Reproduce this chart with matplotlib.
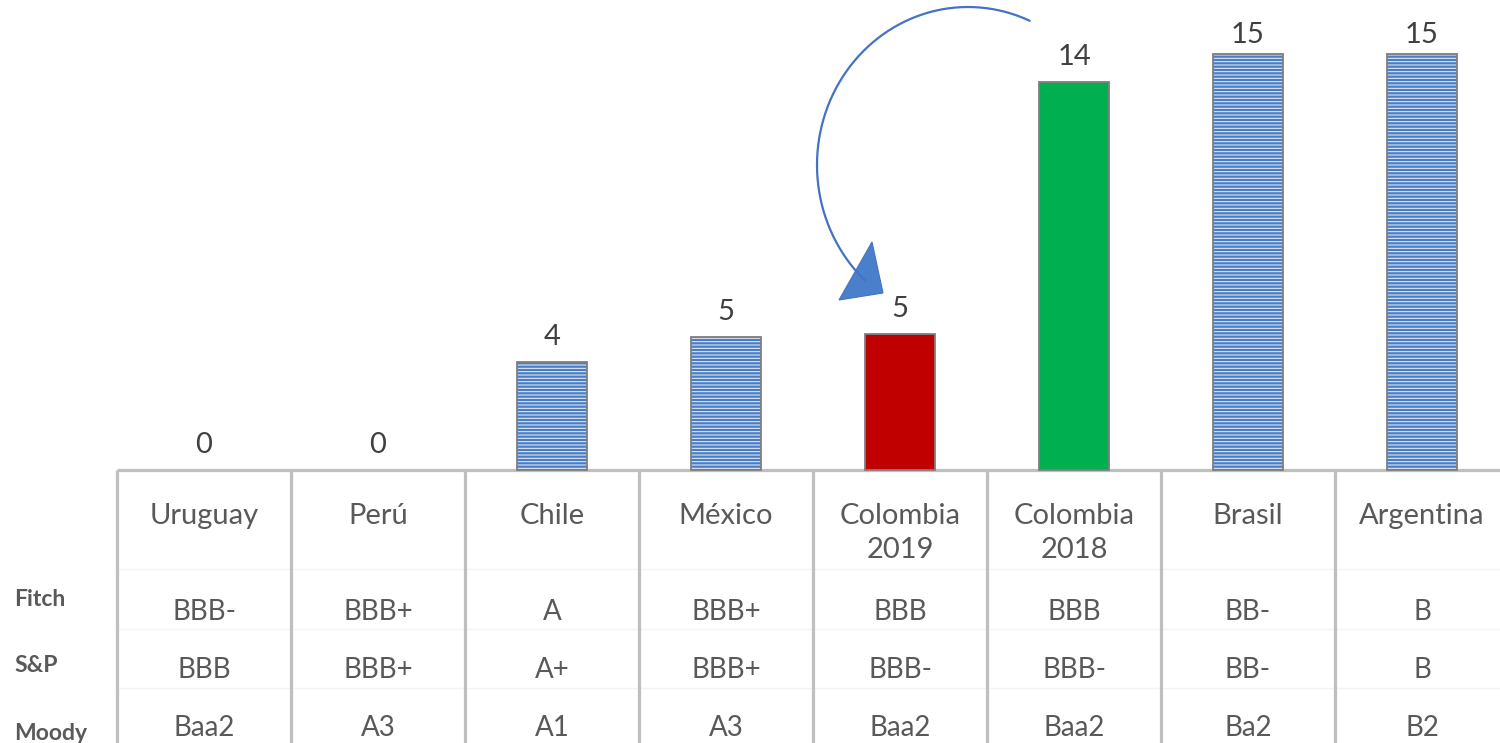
import matplotlib
matplotlib.use("Agg")
import matplotlib.pyplot as plt
from matplotlib.lines import Line2D
from matplotlib.patches import Polygon
import numpy as np

countries = ["Uruguay", "Perú", "Chile", "México", "Colombia\n2019", "Colombia\n2018", "Brasil", "Argentina"]
values = [0, 0, 3.9, 4.8, 4.9, 14.0, 15.0, 15.0]
value_labels = ["0", "0", "4", "5", "5", "14", "15", "15"]
fitch = ["BBB-", "BBB+", "A", "BBB+", "BBB", "BBB", "BB-", "B"]
sp = ["BBB", "BBB+", "A+", "BBB+", "BBB-", "BBB-", "BB-", "B"]
moody = ["Baa2", "A3", "A1", "A3", "Baa2", "Baa2", "Ba2", "B2"]
row_names = ["Fitch", "S&P", "Moody"]

bar_styles = ["blue", "blue", "blue", "blue", "red", "green", "blue", "blue"]

plt.rcParams['font.family'] = ['Lato', 'DejaVu Sans']
plt.rcParams['hatch.linewidth'] = 0.75

W, H = 1500, 743
fig = plt.figure(figsize=(15, 7.43), dpi=100)
ax = fig.add_axes([0, 0, 1, 1])
ax.set_axis_off()

col_px = 174.0
x0_px = 204.0
base_px = 470.0
unit_px = 27.7
ax.set_xlim((0 - x0_px) / col_px, (W - x0_px) / col_px)
ax.set_ylim(-(H - base_px) / unit_px, base_px / unit_px)

def py(p):
    # pixel row -> data y
    return (base_px - p) / unit_px

x = np.arange(len(countries))
bw = 0.40
for i, (v, s) in enumerate(zip(values, bar_styles)):
    if v <= 0:
        continue
    if s == "blue":
        ax.bar(x[i], v, width=bw, color="#4A7EC4", edgecolor="#E8EEF6", hatch="-----", linewidth=0, zorder=2)
        ax.bar(x[i], v, width=bw, fill=False, edgecolor="#7F7F7F", linewidth=1.3, zorder=3)
    elif s == "red":
        ax.bar(x[i], v, width=bw, color="#C00000", edgecolor="#7F7F7F", linewidth=1.3, zorder=3)
    else:
        ax.bar(x[i], v, width=bw, color="#00B050", edgecolor="#7F7F7F", linewidth=1.3, zorder=3)

for i, (v, lab) in enumerate(zip(values, value_labels)):
    off = 14 if v >= 15 else 18
    ax.annotate(lab, (x[i], v), xytext=(0, off), textcoords="offset points",
                ha="center", va="center", fontsize=21, color="#404040")

# table lines
line_c = "#BFBFBF"
xr = (W - x0_px) / col_px + 0.5
ax.plot([-0.5, xr], [0, 0], color=line_c, lw=2.3, zorder=1, solid_capstyle="butt")
ybot = -(H - base_px) / unit_px
for k in range(len(countries) + 1):
    ax.plot([-0.5 + k, -0.5 + k], [0, ybot], color=line_c, lw=2.3, zorder=1, solid_capstyle="butt")
for p in [569, 629, 688]:
    ax.plot([-0.5, xr], [py(p), py(p)], color="#F4F4F4", lw=1.0, zorder=0.5)

txt_c = "#595959"
for i, c in enumerate(countries):
    ax.text(x[i], py(503), c, ha="center", va="top", fontsize=21, color=txt_c, linespacing=1.4)
    ax.text(x[i], py(612), fitch[i], ha="center", va="center", fontsize=20, color=txt_c)
    ax.text(x[i], py(670), sp[i], ha="center", va="center", fontsize=20, color=txt_c)
    ax.text(x[i], py(728), moody[i], ha="center", va="center", fontsize=20, color=txt_c)

for name, p in zip(row_names, [599, 666, 734]):
    fig.text(14 / W, 1 - p / H, name, ha="left", va="center", fontsize=16.5, fontweight="bold", color=txt_c)

# curved arrow annotation (decoration, figure pixel coords)
cx, cy, a, b = 968.0, 165.0, 151.0, 158.0
t = np.radians(np.linspace(66, 227, 200))
xs = cx + a * np.cos(t)
ys = cy - b * np.sin(t)
fig.add_artist(Line2D(xs / W, 1 - ys / H, color="#4472C4", lw=1.6, transform=fig.transFigure))
tri = np.array([[872, 242], [839, 300], [883, 293]], dtype=float)
fig.add_artist(Polygon(np.c_[tri[:, 0] / W, 1 - tri[:, 1] / H], closed=True,
                       facecolor="#4A7FCB", edgecolor="#4472C4", lw=0.8, transform=fig.transFigure))

fig.savefig("out.png", dpi=100)
